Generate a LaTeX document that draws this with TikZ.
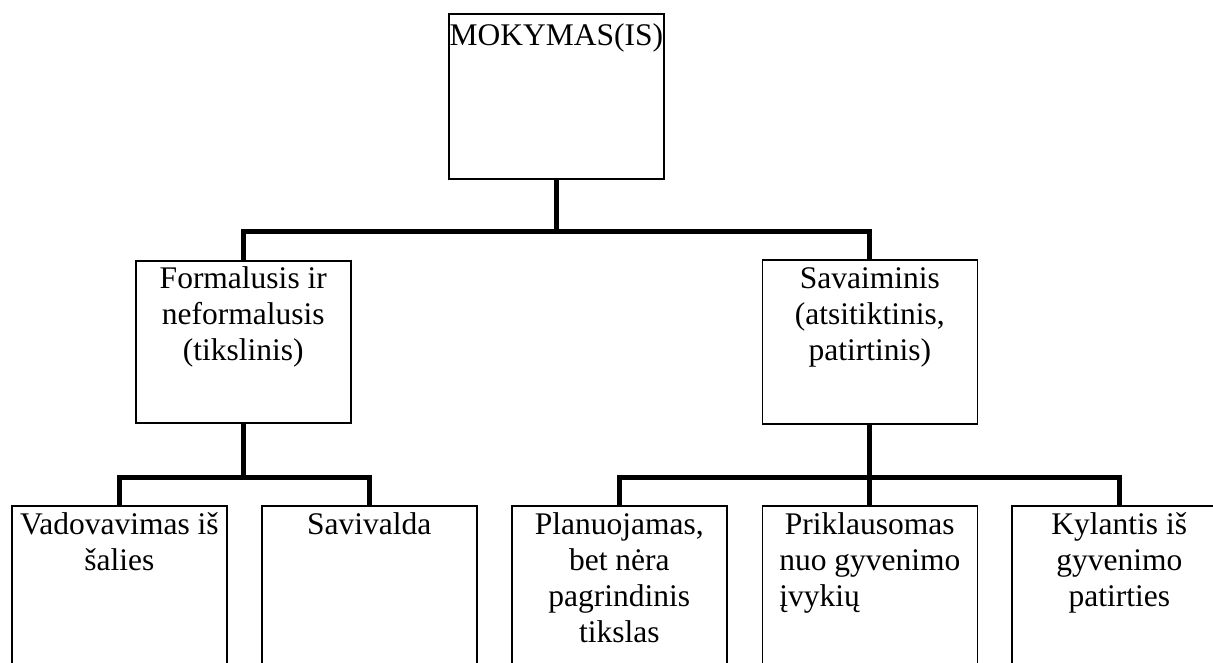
\documentclass[tikz,border=0pt]{standalone}
\usepackage{fontspec}
\setmainfont{Liberation Serif}
\usetikzlibrary{calc}
\newcommand{\topstrut}{\rule{0pt}{23pt}}
\begin{document}
\begin{tikzpicture}[x=1pt,y=-1pt,
  box/.style={draw, line width=1.6pt, rectangle, inner sep=0pt, anchor=north west, minimum width=215pt},
  lbl/.style={anchor=north, align=center, inner sep=0pt, font=\fontsize{31.5}{36}\selectfont},
  conn/.style={line width=5pt}]
\useasboundingbox (0,0) rectangle (1213,662);
\clip (0,0) rectangle (1213,662);
% boxes
\node[box, minimum height=165pt] (top) at (448,13) {};
\node[box, minimum height=162pt] (left) at (135,260) {};
\node[box, minimum height=164pt] (right) at (761.5,259) {};
\node[box, minimum height=220pt] (b1) at (11,505) {};
\node[box, minimum height=220pt] (b2) at (261,505) {};
\node[box, minimum height=220pt] (b3) at (511,505) {};
\node[box, minimum height=220pt] (b4) at (761.5,505) {};
\node[box, minimum height=220pt] (b5) at (1011,505) {};
% labels (first baseline about 29pt below the box top)
\node[lbl] (topt) at ($(top.north)+(0,9)$) {\topstrut MOKYMAS(IS)};
\node[lbl] (leftt) at ($(left.north)+(0,5)$) {\topstrut Formalusis ir\\neformalusis\\(tikslinis)};
\node[lbl] (rightt) at ($(right.north)+(0,6)$) {\topstrut Savaiminis\\(atsitiktinis,\\patirtinis)};
\node[lbl] (b1t) at ($(b1.north)+(0,6)$) {\topstrut Vadovavimas iš\\šalies};
\node[lbl] (b2t) at ($(b2.north)+(0,6)$) {\topstrut Savivalda};
\node[lbl] (b3t) at ($(b3.north)+(0,6)$) {\topstrut Planuojamas,\\bet nėra\\pagrindinis\\tikslas};
\node[lbl] (b4t) at ($(b4.north)+(0,6)$) {\topstrut Priklausomas\\nuo gyvenimo\\\rlap{įvykių}\phantom{nuo gyvenimo}};
\node[lbl] (b5t) at ($(b5.north)+(0,6)$) {\topstrut Kylantis iš\\gyvenimo\\patirties};
% connectors
\coordinate (bus1) at (0,231);
\coordinate (bus2) at (0,477.5);
\draw[conn] (top.south) -- (top.south |- bus1) -| (left.north);
\draw[conn] (top.south |- bus1) -| (right.north);
\draw[conn] (left.south) -- (left.south |- bus2) -| (b1.north);
\draw[conn] (left.south |- bus2) -| (b2.north);
\draw[conn] (right.south) -- (right.south |- bus2) -| (b3.north);
\draw[conn] (right.south |- bus2) -| (b5.north);
\draw[conn] (right.south |- bus2) -- (b4.north);
\end{tikzpicture}
\end{document}
